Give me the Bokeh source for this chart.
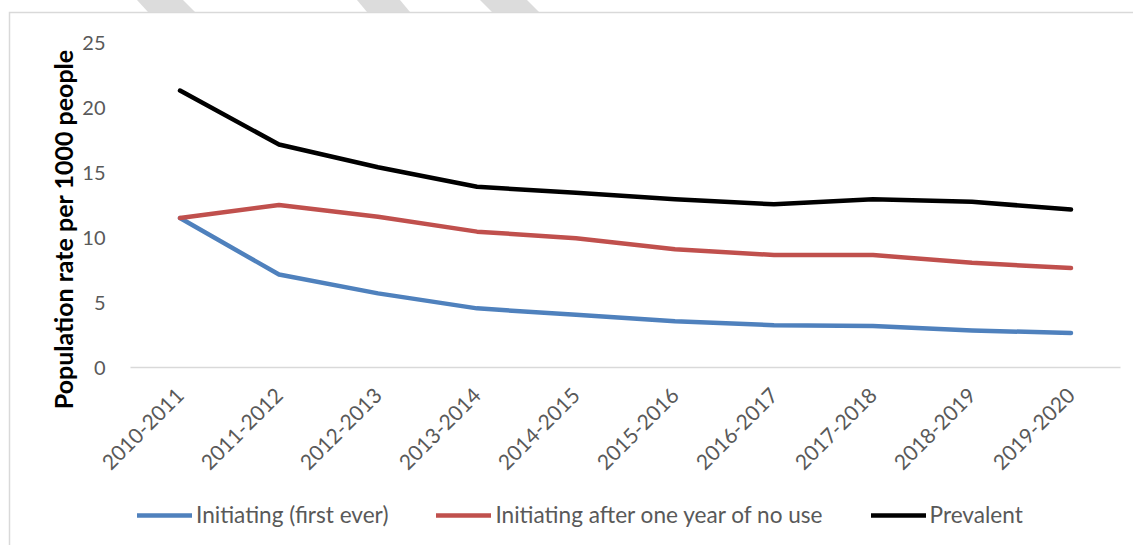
import math
from bokeh.plotting import figure
from bokeh.layouts import column
from bokeh.models import Range1d, FactorRange, Legend, LegendItem, FixedTicker
from bokeh.embed import file_html
from bokeh.resources import INLINE

periods = ["2010-2011", "2011-2012", "2012-2013", "2013-2014", "2014-2015",
           "2015-2016", "2016-2017", "2017-2018", "2018-2019", "2019-2020"]
initiating_first = [11.5, 7.15, 5.7, 4.55, 4.05, 3.55, 3.25, 3.2, 2.85, 2.65]
initiating_after = [11.5, 12.5, 11.6, 10.45, 9.95, 9.1, 8.65, 8.65, 8.05, 7.65]
prevalent = [21.3, 17.15, 15.4, 13.9, 13.45, 12.95, 12.55, 12.95, 12.75, 12.15]
series_names = ["Initiating (first ever)", "Initiating after one year of no use", "Prevalent"]
y_ticks = [0, 5, 10, 15, 20, 25]
y_title = "Population rate per 1000 people"

FONT = "Lato"
GREY = "#595959"
colors = ["#4f81bd", "#c0504d", "#000000"]
data = [initiating_first, initiating_after, prevalent]

p = figure(width=1133, height=480, output_backend="svg", toolbar_location=None,
           x_range=FactorRange(*periods, range_padding=0), y_range=Range1d(0, 25),
           min_border_left=130, min_border_right=13, min_border_top=42, min_border_bottom=113)
p.outline_line_color = None
p.background_fill_alpha = 0
p.border_fill_alpha = 0
p.xgrid.grid_line_color = None
p.ygrid.grid_line_color = None

p.yaxis.ticker = FixedTicker(ticks=y_ticks)
p.yaxis.axis_line_color = None
p.yaxis.major_tick_line_color = None
p.yaxis.minor_tick_line_color = None
p.yaxis.major_label_standoff = 19
p.yaxis.major_label_text_font = FONT
p.yaxis.major_label_text_font_size = "20px"
p.yaxis.major_label_text_color = GREY
p.yaxis.axis_label = y_title + "\u00a0" * 8
p.yaxis.axis_label_text_font = FONT
p.yaxis.axis_label_text_font_style = "bold"
p.yaxis.axis_label_text_font_size = "25px"
p.yaxis.axis_label_text_color = "#000000"
p.yaxis.axis_label_standoff = 1

p.xaxis.axis_line_color = "#d9d9d9"
p.xaxis.axis_line_width = 1.5
p.xaxis.major_tick_line_color = None
p.xaxis.minor_tick_line_color = None
p.xaxis.major_label_orientation = math.pi / 4
p.xaxis.major_label_standoff = 18
p.xaxis.major_label_text_font = FONT
p.xaxis.major_label_text_font_size = "21px"
p.xaxis.major_label_text_color = GREY

for ys, c in zip(data, colors):
    p.line(periods, ys, line_color=c, line_width=4.5, line_cap="round", line_join="round")

# legend strip below the chart
lg = figure(width=1133, height=65, output_backend="svg", toolbar_location=None,
            x_range=FactorRange(*periods, range_padding=0), y_range=Range1d(100, 101),
            min_border_left=130, min_border_right=13, min_border_top=0, min_border_bottom=0)
lg.axis.visible = False
lg.grid.visible = False
lg.outline_line_color = None
lg.background_fill_alpha = 0
lg.border_fill_alpha = 0
items = []
for name, ys, c in zip(series_names, data, colors):
    r = lg.line(periods, ys, line_color=c, line_width=4.5, line_cap="round")
    items.append(LegendItem(label=name, renderers=[r]))
legend = Legend(items=items, orientation="horizontal", location=(7, 17),
                glyph_width=55, glyph_height=20, label_standoff=4, spacing=48,
                padding=0, margin=0, border_line_color=None, background_fill_alpha=0,
                label_text_font=FONT, label_text_font_size="22.6px", label_text_color=GREY)
lg.add_layout(legend, "center")

# page decoration: chart-area border and the grey header stripes
deco = ("<svg xmlns='http://www.w3.org/2000/svg' width='1133' height='545'>"
        "<g fill='%23dcdcdc'>"
        "<polygon points='137,0 183,0 195,12 148,12'/>"
        "<polygon points='357,0 400,0 410,12 367,12'/>"
        "<polygon points='480,0 527,0 539,12 492,12'/></g>"
        "<path d='M9.5,545 V12.5 H1133' fill='none' stroke='%23d9d9d9' stroke-width='1.5'/>"
        "</svg>")

layout = column(p, lg, spacing=0)
layout.styles = {"background-image": 'url("data:image/svg+xml;utf8,' + deco + '")',
                 "background-repeat": "no-repeat"}
open("out.html", "w").write(file_html(layout, INLINE))
